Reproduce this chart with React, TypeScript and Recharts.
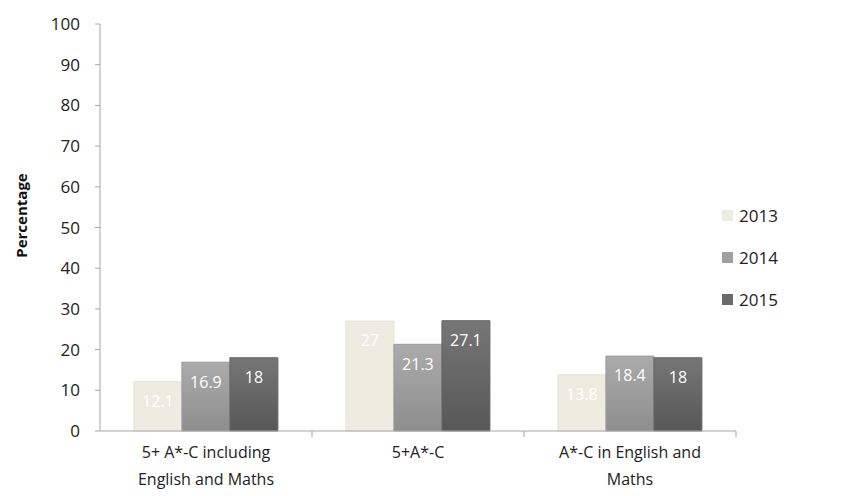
import React from "react";
import { BarChart, Bar, XAxis, YAxis, LabelList } from "recharts";

const categories = ["5+ A*-C including|English and Maths", "5+A*-C", "A*-C in English and|Maths"];
const values2013 = [12.1, 27, 13.8];
const values2014 = [16.9, 21.3, 18.4];
const values2015 = [18, 27.1, 18];
const yTicks = [0, 10, 20, 30, 40, 50, 60, 70, 80, 90, 100];
const seriesNames = ["2013", "2014", "2015"];

const data = categories.map((c, i) => ({
  name: c,
  y2013: values2013[i],
  y2014: values2014[i],
  y2015: values2015[i],
}));

const FONT = "'Open Sans', 'Liberation Sans', sans-serif";
const axisColor = "#a6a6a6";

const XTick = (props: any) => {
  const { x, y, payload } = props;
  const band = 636 / 3;
  const lines = String(payload.value).split("|");
  return (
    <g>
      <line x1={x + band / 2} x2={x + band / 2} y1={y - 8} y2={y - 2} stroke={axisColor} />
      {lines.map((l, i) => (
        <text key={i} x={x} y={y + 19 + i * 27} textAnchor="middle" fontSize={16} fill="#222" fontFamily={FONT}>
          {l}
        </text>
      ))}
    </g>
  );
};

const YTick = (props: any) => {
  const { x, y, payload } = props;
  return (
    <text x={x - 13} y={y + 6} textAnchor="end" fontSize={17} fill="#222" fontFamily={FONT}>
      {payload.value}
    </text>
  );
};

const legendColors = ["#eeece1", "#a0a0a0", "#6a6a6a"];

const LegendBox = () => (
  <div style={{ position: "absolute", left: 722, top: 194, fontFamily: FONT, fontSize: 17, color: "#222" }}>
    {seriesNames.map((n, i) => (
      <div key={n} style={{ display: "flex", alignItems: "center", height: 42 }}>
        <div style={{ width: 11, height: 11, background: legendColors[i], marginRight: 6 }} />
        <span>{n}</span>
      </div>
    ))}
  </div>
);

export default function App() {
  return (
    <div style={{ position: "absolute", left: 0, top: 0, width: 851, height: 496, background: "#fff" }}>
      <BarChart
        width={851}
        height={496}
        data={data}
        margin={{ top: 24, right: 115, left: 40, bottom: 15 }}
        barCategoryGap="16%"
        barGap={0}
      >
        <defs>
          <linearGradient id="g2014" x1="0" y1="0" x2="0" y2="1">
            <stop offset="0%" stopColor="#ababab" />
            <stop offset="100%" stopColor="#8e8e8e" />
          </linearGradient>
          <linearGradient id="g2015" x1="0" y1="0" x2="0" y2="1">
            <stop offset="0%" stopColor="#767676" />
            <stop offset="100%" stopColor="#575757" />
          </linearGradient>
        </defs>
        <XAxis
          dataKey="name"
          height={50}
          stroke={axisColor}
          tickLine={false}
          tick={<XTick />}
          interval={0}
        />
        <YAxis
          width={60}
          domain={[0, 100]}
          ticks={yTicks}
          stroke={axisColor}
          tickSize={5}
          tick={<YTick />}
          label={{
            value: "Percentage",
            angle: -90,
            position: "center",
            dx: -48,
            dy: -12,
            style: { fontWeight: "bold", fontSize: 15, fill: "#111", fontFamily: FONT },
          }}
        />
        <Bar dataKey="y2013" fill="#eeece1" stroke="#e4e2d6" isAnimationActive={false}>
          <LabelList dataKey="y2013" position="insideTop" offset={14} fill="#fff" fontSize={16} fontFamily={FONT} />
        </Bar>
        <Bar dataKey="y2014" fill="url(#g2014)" stroke="#9a9a9a" isAnimationActive={false}>
          <LabelList dataKey="y2014" position="insideTop" offset={14} fill="#fff" fontSize={16} fontFamily={FONT} />
        </Bar>
        <Bar dataKey="y2015" fill="url(#g2015)" stroke="#666" isAnimationActive={false}>
          <LabelList dataKey="y2015" position="insideTop" offset={14} fill="#fff" fontSize={16} fontFamily={FONT} />
        </Bar>
      </BarChart>
      <LegendBox />
    </div>
  );
}
